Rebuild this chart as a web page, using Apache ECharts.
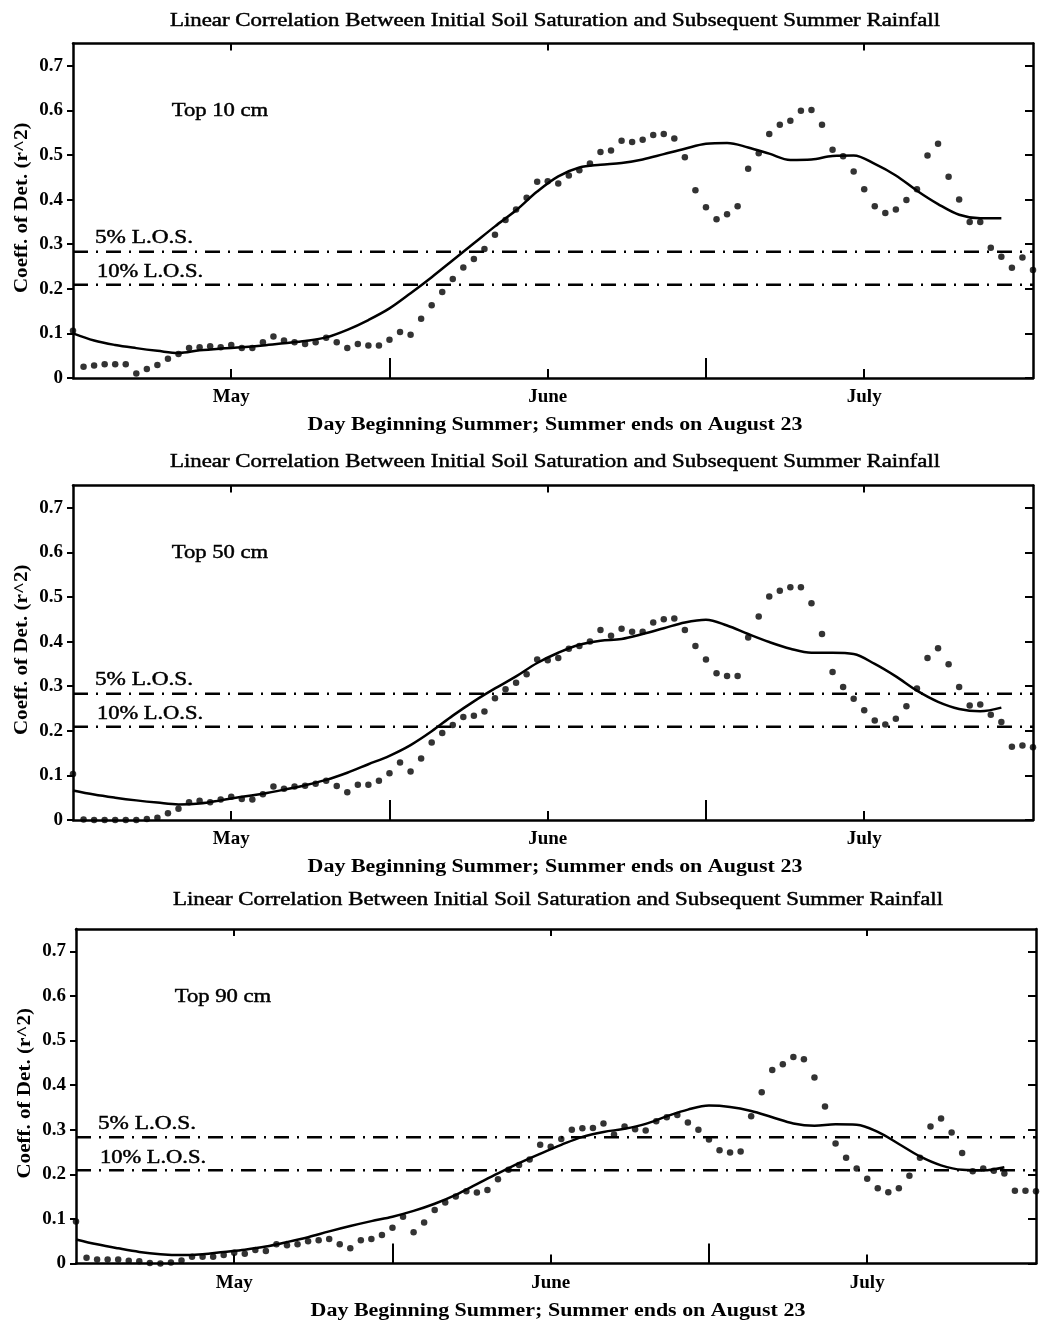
<!DOCTYPE html>
<html>
<head>
<meta charset="utf-8">
<script src="https://cdn.jsdelivr.net/npm/echarts@6/dist/echarts.min.js"></script>
<style>
  html, body { margin: 0; padding: 0; background: #fff; }
  #chart { width: 1040px; height: 1327px; }
</style>
</head>
<body>
<div id="chart"></div>
<script>
// ---- data -------------------------------------------------------------
// day index from the start of the window (one correlation value per day)
const days = [
  0, 1, 2, 3, 4, 5, 6, 7, 8, 9, 10, 11, 12, 13, 14, 15, 16, 17, 18, 19,
  20, 21, 22, 23, 24, 25, 26, 27, 28, 29, 30, 31, 32, 33, 34, 35, 36, 37, 38, 39,
  40, 41, 42, 43, 44, 45, 46, 47, 48, 49, 50, 51, 52, 53, 54, 55, 56, 57, 58, 59,
  60, 61, 62, 63, 64, 65, 66, 67, 68, 69, 70, 71, 72, 73, 74, 75, 76, 77, 78, 79,
  80, 81, 82, 83, 84, 85, 86, 87, 88, 89, 90, 91
];

// month labels and where they sit on the day axis
const monthTicks = [15, 45, 75];
const monthLabels = ['May', 'June', 'July'];
const midMonthTicks = [30, 60];
const yTicks = [0, 0.1, 0.2, 0.3, 0.4, 0.5, 0.6, 0.7];

// significance thresholds for r^2
const los5 = 0.283;
const los10 = 0.209;

// daily r^2, top 10 cm
const r2Top10 = [
  0.106, 0.025, 0.028, 0.031, 0.031, 0.031, 0.010, 0.020, 0.029, 0.043,
  0.054, 0.067, 0.069, 0.071, 0.069, 0.074, 0.067, 0.067, 0.080, 0.093,
  0.084, 0.080, 0.076, 0.080, 0.090, 0.080, 0.067, 0.076, 0.073, 0.073,
  0.086, 0.103, 0.097, 0.133, 0.163, 0.193, 0.222, 0.248, 0.267, 0.289,
  0.321, 0.354, 0.378, 0.404, 0.440, 0.441, 0.436, 0.454, 0.466, 0.481,
  0.507, 0.510, 0.532, 0.529, 0.534, 0.545, 0.547, 0.537, 0.495, 0.421,
  0.383, 0.356, 0.367, 0.385, 0.469, 0.504, 0.547, 0.568, 0.577, 0.599,
  0.601, 0.568, 0.512, 0.497, 0.463, 0.423, 0.385, 0.370, 0.378, 0.399,
  0.423, 0.499, 0.525, 0.451, 0.400, 0.350, 0.350, 0.292, 0.272, 0.247,
  0.270, 0.242
];

// daily r^2, top 50 cm
const r2Top50 = [
  0.103, 0.001, 0.000, 0.000, 0.000, 0.000, 0.000, 0.002, 0.005, 0.015,
  0.025, 0.040, 0.043, 0.040, 0.046, 0.052, 0.047, 0.046, 0.058, 0.075,
  0.070, 0.075, 0.077, 0.081, 0.088, 0.076, 0.062, 0.079, 0.079, 0.088,
  0.105, 0.129, 0.109, 0.138, 0.174, 0.195, 0.213, 0.231, 0.234, 0.243,
  0.273, 0.293, 0.308, 0.327, 0.360, 0.358, 0.363, 0.384, 0.390, 0.400,
  0.426, 0.413, 0.429, 0.422, 0.422, 0.443, 0.450, 0.452, 0.426, 0.390,
  0.360, 0.329, 0.323, 0.323, 0.409, 0.456, 0.501, 0.514, 0.522, 0.522,
  0.486, 0.417, 0.332, 0.298, 0.272, 0.246, 0.223, 0.214, 0.227, 0.255,
  0.295, 0.363, 0.385, 0.349, 0.298, 0.257, 0.259, 0.236, 0.220, 0.164,
  0.167, 0.163
];

// daily r^2, top 90 cm
const r2Top90 = [
  0.094, 0.013, 0.009, 0.009, 0.009, 0.006, 0.005, 0.001, 0.000, 0.002,
  0.007, 0.015, 0.015, 0.015, 0.019, 0.024, 0.022, 0.030, 0.028, 0.043,
  0.041, 0.043, 0.050, 0.052, 0.055, 0.043, 0.034, 0.052, 0.055, 0.064,
  0.080, 0.105, 0.070, 0.092, 0.120, 0.137, 0.150, 0.162, 0.159, 0.165,
  0.189, 0.210, 0.221, 0.233, 0.266, 0.262, 0.279, 0.300, 0.303, 0.304,
  0.314, 0.289, 0.307, 0.301, 0.298, 0.319, 0.328, 0.333, 0.316, 0.300,
  0.278, 0.254, 0.249, 0.251, 0.330, 0.384, 0.434, 0.447, 0.463, 0.458,
  0.417, 0.352, 0.269, 0.237, 0.213, 0.190, 0.169, 0.160, 0.169, 0.197,
  0.237, 0.307, 0.325, 0.294, 0.248, 0.207, 0.213, 0.208, 0.202, 0.163,
  0.163, 0.162
];

// smoothed r^2 curve, sampled every second day
const fitDays = [
  0, 2, 4, 6, 8, 10, 12, 14, 16, 18, 20, 22, 24, 26, 28, 30, 32, 34, 36, 38,
  40, 42, 44, 46, 48, 50, 52, 54, 56, 58, 60, 62, 64, 66, 68, 70, 72, 74, 76, 78,
  80, 82, 84, 86, 88
];
const fitTop10 = [
  0.100, 0.084, 0.074, 0.067, 0.061, 0.056, 0.062, 0.066, 0.069, 0.073,
  0.078, 0.083, 0.091, 0.108, 0.130, 0.156, 0.190, 0.226, 0.264, 0.302,
  0.340, 0.376, 0.418, 0.452, 0.472, 0.478, 0.482, 0.490, 0.502, 0.514,
  0.525, 0.527, 0.517, 0.503, 0.489, 0.490, 0.498, 0.499, 0.480, 0.454,
  0.420, 0.390, 0.366, 0.358, 0.358
];
const fitTop50 = [
  0.066, 0.057, 0.050, 0.044, 0.039, 0.035, 0.037, 0.044, 0.052, 0.059,
  0.068, 0.078, 0.090, 0.106, 0.125, 0.144, 0.168, 0.199, 0.234, 0.266,
  0.295, 0.322, 0.352, 0.375, 0.393, 0.402, 0.406, 0.417, 0.430, 0.443,
  0.449, 0.436, 0.417, 0.399, 0.384, 0.375, 0.375, 0.372, 0.350, 0.322,
  0.290, 0.265, 0.249, 0.244, 0.252
];
const fitTop90 = [
  0.054, 0.043, 0.034, 0.026, 0.021, 0.019, 0.021, 0.026, 0.031, 0.038,
  0.048, 0.059, 0.072, 0.084, 0.095, 0.105, 0.118, 0.134, 0.154, 0.178,
  0.202, 0.225, 0.246, 0.266, 0.284, 0.295, 0.302, 0.313, 0.330, 0.345,
  0.354, 0.351, 0.342, 0.328, 0.314, 0.309, 0.312, 0.311, 0.295, 0.268,
  0.240, 0.220, 0.210, 0.209, 0.216
];

const depthLabels = ['Top 10 cm', 'Top 50 cm', 'Top 90 cm'];
const panelTitle = 'Linear Correlation Between Initial Soil Saturation and Subsequent Summer Rainfall';
const xName = 'Day Beginning Summer; Summer ends on August 23';
const yName = 'Coeff. of Det. (r^2)';

// ---- layout -----------------------------------------------------------
const FONT = '"Liberation Serif", "Times New Roman", Times, serif';
const panels = [
  { left: 73, top: 43.5, width: 960, height: 334.5, titleGap: 22.5, dots: r2Top10, fit: fitTop10, label: depthLabels[0] },
  { left: 73, top: 485.5, width: 960, height: 334.5, titleGap: 23, dots: r2Top50, fit: fitTop50, label: depthLabels[1] },
  { left: 76, top: 929, width: 960, height: 334.5, titleGap: 28.5, dots: r2Top90, fit: fitTop90, label: depthLabels[2] }
];
const DAY_MIN = 0, DAY_MAX = 91, R2_MAX = 0.75;
const black = '#000';

const grid = [], xAxis = [], yAxis = [], series = [], graphic = [];

panels.forEach((p, i) => {
  grid.push({ left: p.left, top: p.top, width: p.width, height: p.height, containLabel: false });

  // bottom axis: month ticks and labels
  xAxis.push({
    gridIndex: i, type: 'value', position: 'bottom', min: DAY_MIN, max: DAY_MAX,
    axisLine: { show: true, onZero: false, lineStyle: { color: black, width: 2.5 } },
    axisTick: { show: true, inside: true, length: 9, customValues: monthTicks, lineStyle: { color: black, width: 2 } },
    axisLabel: {
      show: true, customValues: monthTicks, margin: 10,
      formatter: v => monthLabels[monthTicks.indexOf(v)] || '',
      color: black, fontFamily: FONT, fontWeight: 'bold', fontSize: 19
    },
    splitLine: { show: false }
  });
  // top frame
  xAxis.push({
    gridIndex: i, type: 'value', position: 'top', min: DAY_MIN, max: DAY_MAX,
    axisLine: { show: true, onZero: false, lineStyle: { color: black, width: 2.5 } },
    axisTick: { show: true, inside: true, length: 7, customValues: monthTicks, lineStyle: { color: black, width: 2 } },
    axisLabel: { show: false }, splitLine: { show: false }
  });
  // long mid-month marks on the bottom edge
  xAxis.push({
    gridIndex: i, type: 'value', position: 'bottom', min: DAY_MIN, max: DAY_MAX,
    axisLine: { show: false },
    axisTick: { show: true, inside: true, length: 20, customValues: midMonthTicks, lineStyle: { color: black, width: 2 } },
    axisLabel: { show: false }, splitLine: { show: false }
  });

  yAxis.push({
    gridIndex: i, type: 'value', position: 'left', min: 0, max: R2_MAX,
    axisLine: { show: true, onZero: false, lineStyle: { color: black, width: 2.5 } },
    axisTick: { show: true, inside: false, length: 6, customValues: yTicks, lineStyle: { color: black, width: 2 } },
    axisLabel: {
      show: true, customValues: yTicks, margin: 10,
      formatter: v => (v === 0 ? '0' : v.toFixed(1)),
      color: black, fontFamily: FONT, fontWeight: 'bold', fontSize: 19
    },
    splitLine: { show: false }
  });
  yAxis.push({
    gridIndex: i, type: 'value', position: 'right', min: 0, max: R2_MAX,
    axisLine: { show: true, onZero: false, lineStyle: { color: black, width: 2.5 } },
    axisTick: { show: true, inside: true, length: 8, customValues: yTicks, lineStyle: { color: black, width: 2 } },
    axisLabel: { show: false }, splitLine: { show: false }
  });

  const xi = i * 3, yi = i * 2;
  const dash = [15, 8, 2, 8];
  [los5, los10].forEach(level => {
    series.push({
      type: 'line', xAxisIndex: xi, yAxisIndex: yi, silent: true, symbol: 'none',
      data: [[DAY_MIN, level], [DAY_MAX, level]],
      lineStyle: { color: black, width: 2.4, type: dash }, z: 2
    });
  });
  series.push({
    type: 'line', xAxisIndex: xi, yAxisIndex: yi, silent: true, symbol: 'none',
    smooth: 0.35,
    data: fitDays.map((d, k) => [d, p.fit[k]]),
    lineStyle: { color: black, width: 2.5 }, z: 3
  });
  series.push({
    type: 'scatter', xAxisIndex: xi, yAxisIndex: yi, silent: true,
    symbol: 'circle', symbolSize: 6.5,
    data: days.map((d, k) => [d, p.dots[k]]),
    itemStyle: { color: black }, z: 4
  });

  // texts (type is set wide, so glyphs are stretched horizontally)
  const txt = (x, y, text, size, weight, sx, rot) => ({
    type: 'text', x: x, y: y, scaleX: sx, rotation: rot || 0, silent: true,
    style: {
      text: text, fill: black, font: `${weight} ${size}px ${FONT}`,
      textAlign: 'center', verticalAlign: 'middle',
      stroke: weight === 'normal' ? black : null, lineWidth: weight === 'normal' ? 0.45 : 0
    }
  });
  graphic.push(txt(p.left + 482, p.top - p.titleGap, panelTitle, 18, 'normal', 1.27));
  graphic.push(txt(p.left + 482, p.top + p.height + 47.5, xName, 18, 'bold', 1.22));
  graphic.push(txt(p.left - 51, p.top + p.height / 2 - 3, yName, 18, 'bold', 1.17, Math.PI / 2));
  graphic.push(txt(p.left + 147, p.top + 68, p.label, 19, 'normal', 1.19));
  graphic.push(txt(p.left + 71, p.top + 195, '5% L.O.S.', 18, 'normal', 1.29));
  graphic.push(txt(p.left + 77, p.top + 229, '10% L.O.S.', 18, 'normal', 1.25));
});

const chart = echarts.init(document.getElementById('chart'), null, { renderer: 'canvas' });
chart.setOption({
  animation: false,
  backgroundColor: '#fff',
  grid: grid, xAxis: xAxis, yAxis: yAxis, series: series,
  graphic: { elements: graphic }
});
</script>
</body>
</html>
